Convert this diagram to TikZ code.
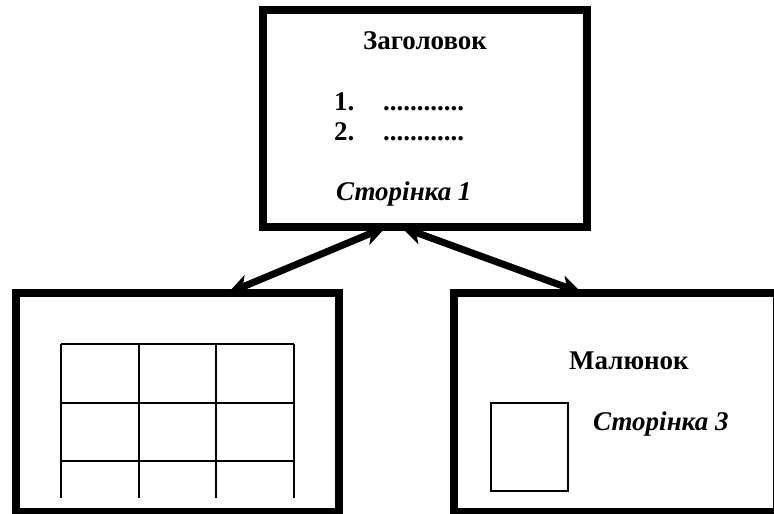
\documentclass[tikz,border=0pt]{standalone}
\usepackage{fontspec}
\setmainfont{Liberation Serif}
\usetikzlibrary{arrows.meta}

\begin{document}
\begin{tikzpicture}[x=1pt,y=-1pt,
    page/.style={draw,line width=8pt,outer sep=0pt,inner sep=0pt},
    tip/.tip={Stealth[length=22pt,width=20pt,inset=6pt]},
    link/.style={line width=7pt,tip-tip},
    cell/.style={line width=2pt},
    txt/.style={inner sep=0pt,font=\fontsize{27}{30}\selectfont\bfseries},
    itxt/.style={txt,font=\fontsize{27}{30}\selectfont\bfseries\itshape}]
    \useasboundingbox (0,0) rectangle (774,514);
    % pages
    \node[page,minimum width=324pt,minimum height=217pt] (title) at (425,118.5) {};
    \node[page,minimum width=323pt,minimum height=219pt] (tbl) at (177.5,402.5) {};
    \node[page,minimum width=323pt,minimum height=219pt] (pic) at (615.5,402.5) {};
    % page 1
    \node[txt,anchor=base] (head) at (425,49) {Заголовок};
    \node[txt,anchor=base west] (n1) at (334,110) {1.};
    \node[txt,anchor=base west] (d1) at (383,110) {............};
    \node[txt,anchor=base west] (n2) at (334,140) {2.};
    \node[txt,anchor=base west] (d2) at (383,140) {............};
    \node[itxt,anchor=base west] (pg1) at (336,200) {Сторінка 1};
    % table
    \foreach \x in {61,139,216,294}
      \draw[cell] (\x,344) -- (\x,498);
    \foreach \y in {344,403,461}
      \draw[cell] (61,\y) -- (294,\y);
    % picture page
    \node[txt,anchor=base] (fig) at (629,369) {Малюнок};
    \draw[line width=1.5pt] (491,403) rectangle (568,491);
    \node[itxt,anchor=base west] (pg3) at (593,430) {Сторінка 3};
    % links
    \draw[link] ([xshift=50.5pt]tbl.north) -- ([xshift=-39pt]title.south);
    \draw[link] ([xshift=-24pt]title.south) -- ([xshift=-33.5pt]pic.north);
\end{tikzpicture}
\end{document}
